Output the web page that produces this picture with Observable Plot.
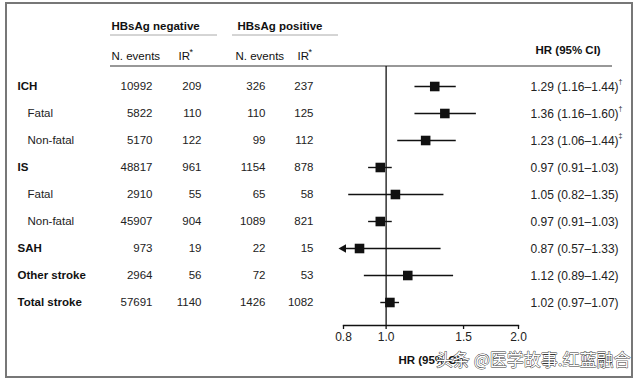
<!DOCTYPE html>
<html><head><meta charset="utf-8">
<script src="https://cdn.jsdelivr.net/npm/d3@7"></script>
<script src="https://cdn.jsdelivr.net/npm/@observablehq/plot@0.6"></script>
<style>body{margin:0;background:#fff;}</style>
</head><body><div id="chart"></div>
<script>
const labels = ["ICH","Fatal","Non-fatal","IS","Fatal","Non-fatal","SAH","Other stroke","Total stroke"];
const levels = [0,1,1,0,1,1,0,0,0];
const negEvents = [10992,5822,5170,48817,2910,45907,973,2964,57691];
const negIR = [209,110,122,961,55,904,19,56,1140];
const posEvents = [326,110,99,1154,65,1089,22,72,1426];
const posIR = [237,125,112,878,58,821,15,53,1082];
const hr = [1.29,1.36,1.23,0.97,1.05,0.97,0.87,1.12,1.02];
const lo = [1.16,1.16,1.06,0.91,0.82,0.91,0.57,0.89,0.97];
const hi = [1.44,1.60,1.44,1.03,1.35,1.03,1.33,1.42,1.07];
const notes = ["†","†","‡","","","","","",""];
const xTicks = [0.8,1.0,1.5,2.0];
const xDomain = [0.8,2.0];

const rows = labels.map((label,i)=>({
  id:i, label, level:levels[i], negEvents:negEvents[i], negIR:negIR[i],
  posEvents:posEvents[i], posIR:posIR[i], hr:hr[i], lo:lo[i], hi:hi[i], note:notes[i],
  loClip: Math.max(lo[i], xDomain[0]), clipped: lo[i] < xDomain[0]
}));
const fmt = d3.format(".2f");
const ink = "#111";

const decor = () => {
  const g = d3.create("svg:g");
  g.append("rect").attr("x",6).attr("y",3).attr("width",626).attr("height",374)
    .attr("fill","none").attr("stroke","#777").attr("stroke-width",2);
  g.append("line").attr("x1",110).attr("x2",217).attr("y1",35).attr("y2",35).attr("stroke","#aaa");
  g.append("line").attr("x1",232).attr("x2",338).attr("y1",35).attr("y2",35).attr("stroke","#aaa");
  g.append("line").attr("x1",110).attr("x2",612).attr("y1",66).attr("y2",66).attr("stroke","#333").attr("stroke-width",1.2);
  return g.node();
};

const hdr = (text, dx, dy, o={}) => Plot.text([text], {frameAnchor:"top-left", dx, dy, textAnchor:"start", fill:ink, ...o});

const chart = Plot.plot({
  width:640, height:382,
  marginLeft:343, marginRight:122, marginTop:66, marginBottom:57,
  style:{fontFamily:"'Liberation Sans', Arial, sans-serif", fontSize:"11.5px", background:"#fff", color:ink},
  x:{type:"log", domain:xDomain, axis:null},
  y:{type:"point", domain:d3.range(labels.length), range:[82,305], padding:0, axis:null},
  marks:[
    decor,
    Plot.frame({anchor:"bottom", stroke:ink, strokeWidth:1.3}),
    Plot.ruleX([1], {stroke:ink, strokeWidth:1.3}),
    // x axis ticks and labels
    Plot.ruleX(xTicks, {x:d=>d, insetTop:259, insetBottom:-4, stroke:ink, strokeWidth:1.3}),
    Plot.text(xTicks, {x:d=>d, text:d3.format(".1f"), frameAnchor:"bottom", dy:15, fill:"#222", fontSize:12}),
    // headers
    hdr("HBsAg negative", -232, -45, {fontWeight:"bold"}),
    hdr("HBsAg positive", -106, -45, {fontWeight:"bold"}),
    hdr("N. events", -232, -15),
    hdr("IR", -165, -15),
    hdr("*", -154, -18, {fontSize:9}),
    hdr("N. events", -108, -15),
    hdr("IR", -46, -15),
    hdr("*", -35, -18, {fontSize:9}),
    Plot.text(["HR (95% CI)"], {frameAnchor:"top-right", dx:17, dy:-21, textAnchor:"start", fontWeight:"bold", fill:ink}),
    // row labels
    Plot.text(rows.filter(d=>d.level===0), {y:"id", text:"label", frameAnchor:"left", dx:-326, textAnchor:"start", fontWeight:"bold", fill:ink}),
    Plot.text(rows.filter(d=>d.level===1), {y:"id", text:"label", frameAnchor:"left", dx:-316, textAnchor:"start", fill:"#222"}),
    // numbers
    Plot.text(rows, {y:"id", text:d=>String(d.negEvents), frameAnchor:"left", dx:-191, textAnchor:"end", fill:"#222"}),
    Plot.text(rows, {y:"id", text:d=>String(d.negIR), frameAnchor:"left", dx:-142, textAnchor:"end", fill:"#222"}),
    Plot.text(rows, {y:"id", text:d=>String(d.posEvents), frameAnchor:"left", dx:-78, textAnchor:"end", fill:"#222"}),
    Plot.text(rows, {y:"id", text:d=>String(d.posIR), frameAnchor:"left", dx:-30, textAnchor:"end", fill:"#222"}),
    // HR text
    Plot.text(rows, {y:"id", text:d=>`${fmt(d.hr)} (${fmt(d.lo)}–${fmt(d.hi)})`, frameAnchor:"right", dx:12, dy:1, textAnchor:"start", fill:"#222", fontSize:12}),
    Plot.text(rows, {y:"id", text:"note", frameAnchor:"right", dx:100, dy:-5, textAnchor:"start", fontSize:7, fill:"#222"}),
    // CI lines and points
    Plot.link(rows, {x1:"loClip", x2:"hi", y1:"id", y2:"id", stroke:ink, strokeWidth:1.4}),
    Plot.dot(rows.filter(d=>d.clipped), {x:"loClip", y:"id", symbol:"triangle", rotate:-90, r:3.2, fill:ink, stroke:null}),
    Plot.dot(rows, {x:"hr", y:"id", symbol:"square", r:5.4, fill:ink, stroke:null}),
    // x label
    Plot.text(["HR (95% CI)"], {frameAnchor:"bottom", dy:38, fontWeight:"bold", fill:ink}),
    // watermark
    Plot.text(["头条 @医学故事.红蓝融合"], {frameAnchor:"bottom-right", dx:112, dy:40, textAnchor:"end", fontSize:17, fontFamily:"'Noto Sans CJK SC', sans-serif", fill:"#fff", stroke:"#333", strokeWidth:0.9})
  ]
});
document.getElementById("chart").appendChild(chart);
</script>
</body></html>
